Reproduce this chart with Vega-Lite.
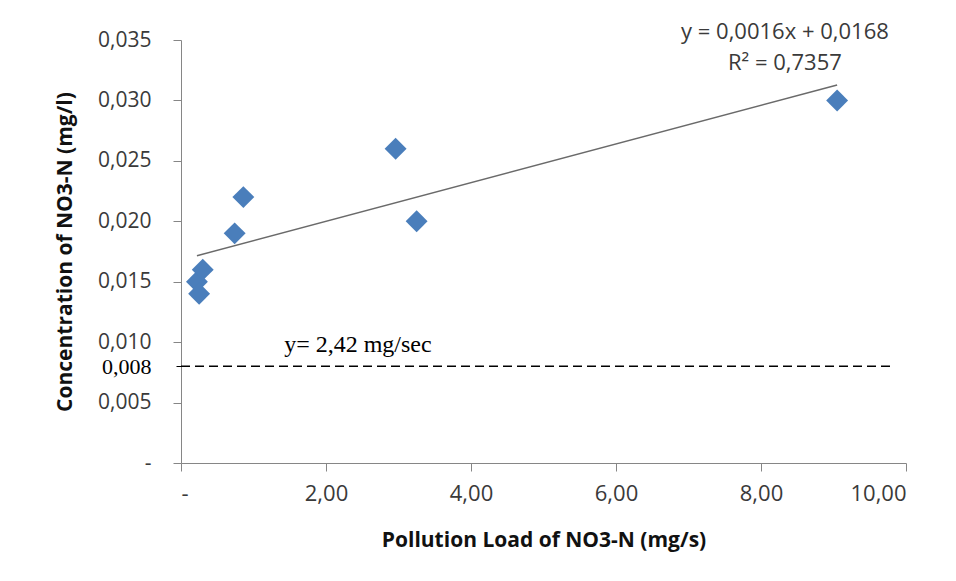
{
  "$schema": "https://vega.github.io/schema/vega-lite/v6.json",
  "width": 725,
  "height": 423,
  "autosize": {"type": "none"},
  "padding": {"left": 181, "top": 40, "right": 50, "bottom": 118},
  "background": "white",
  "config": {
    "view": {"stroke": null},
    "font": "Open Sans"
  },
  "datasets": {
    "points": [
      {"x": 0.22, "y": 0.015},
      {"x": 0.25, "y": 0.014},
      {"x": 0.30, "y": 0.016},
      {"x": 0.74, "y": 0.019},
      {"x": 0.86, "y": 0.022},
      {"x": 2.96, "y": 0.026},
      {"x": 3.25, "y": 0.020},
      {"x": 9.05, "y": 0.030}
    ],
    "trend": [
      {"x": 0.22, "y": 0.01715},
      {"x": 9.05, "y": 0.03128}
    ],
    "threshold": [
      {"x": 0, "x2": 9.82, "y": 0.008}
    ],
    "equation": [
      {"x": 8.33, "y": 0.0357, "label": "y = 0,0016x + 0,0168"},
      {"x": 8.33, "y": 0.0331, "label": "R² = 0,7357"}
    ],
    "note": [
      {"x": 2.44, "y": 0.00976, "label": "y= 2,42 mg/sec"}
    ]
  },
  "encoding": {
    "x": {
      "field": "x",
      "type": "quantitative",
      "scale": {"domain": [0, 10], "nice": false, "zero": false},
      "axis": {
        "title": "Pollution Load of NO3-N (mg/s)",
        "values": [0, 2, 4, 6, 8, 10],
        "labelExpr": "datum.value == 0 ? '-' : replace(format(datum.value, '.2f'), '.', ',')",
        "grid": false,
        "domainColor": "#868686",
        "tickColor": "#868686",
        "tickSize": 8,
        "labelFontSize": 22,
        "labelColor": "#3a3a3a",
        "labelPadding": 12,
        "titleFontSize": 21,
        "titleFontWeight": "bold",
        "titleColor": "#111111",
        "titlePadding": 25
      }
    },
    "y": {
      "field": "y",
      "type": "quantitative",
      "scale": {"domain": [0, 0.035], "nice": false, "zero": false},
      "axis": {
        "title": "Concentration of NO3-N (mg/l)",
        "values": [0, 0.005, 0.008, 0.01, 0.015, 0.02, 0.025, 0.03, 0.035],
        "labelExpr": "datum.value == 0 ? '-' : replace(format(datum.value, '.3f'), '.', ',')",
        "grid": false,
        "domainColor": "#868686",
        "tickColor": {"condition": {"test": "datum.value == 0.008", "value": "#000000"}, "value": "#868686"},
        "tickDash": {"condition": {"test": "datum.value == 0.008", "value": [5, 3]}, "value": []},
        "tickSize": 8,
        "labelFontSize": {"condition": {"test": "datum.value == 0.008", "value": 22}, "value": 21},
        "labelFont": {"condition": {"test": "datum.value == 0.008", "value": "Liberation Serif"}, "value": "Open Sans"},
        "labelColor": {"condition": {"test": "datum.value == 0.008", "value": "#000000"}, "value": "#3a3a3a"},
        "labelPadding": 22,
        "titleFontSize": 21,
        "titleFontWeight": "bold",
        "titleColor": "#111111",
        "titlePadding": 22
      }
    }
  },
  "layer": [
    {
      "data": {"name": "threshold"},
      "mark": {"type": "rule", "color": "#000000", "strokeWidth": 1.5, "strokeDash": [9, 5]},
      "encoding": {"x2": {"field": "x2"}}
    },
    {
      "data": {"name": "trend"},
      "mark": {"type": "line", "color": "#6a6a6a", "strokeWidth": 1.5},
      "encoding": {}
    },
    {
      "data": {"name": "points"},
      "mark": {"type": "point", "shape": "diamond", "filled": true, "size": 480, "color": "#4a7ebb", "opacity": 1},
      "encoding": {}
    },
    {
      "data": {"name": "equation"},
      "mark": {"type": "text", "fontSize": 22, "color": "#3a3a3a", "align": "center", "baseline": "middle", "font": "Open Sans"},
      "encoding": {"text": {"field": "label"}}
    },
    {
      "data": {"name": "note"},
      "mark": {"type": "text", "fontSize": 24, "color": "#000000", "align": "center", "baseline": "middle", "font": "Liberation Serif"},
      "encoding": {"text": {"field": "label"}}
    }
  ]
}
